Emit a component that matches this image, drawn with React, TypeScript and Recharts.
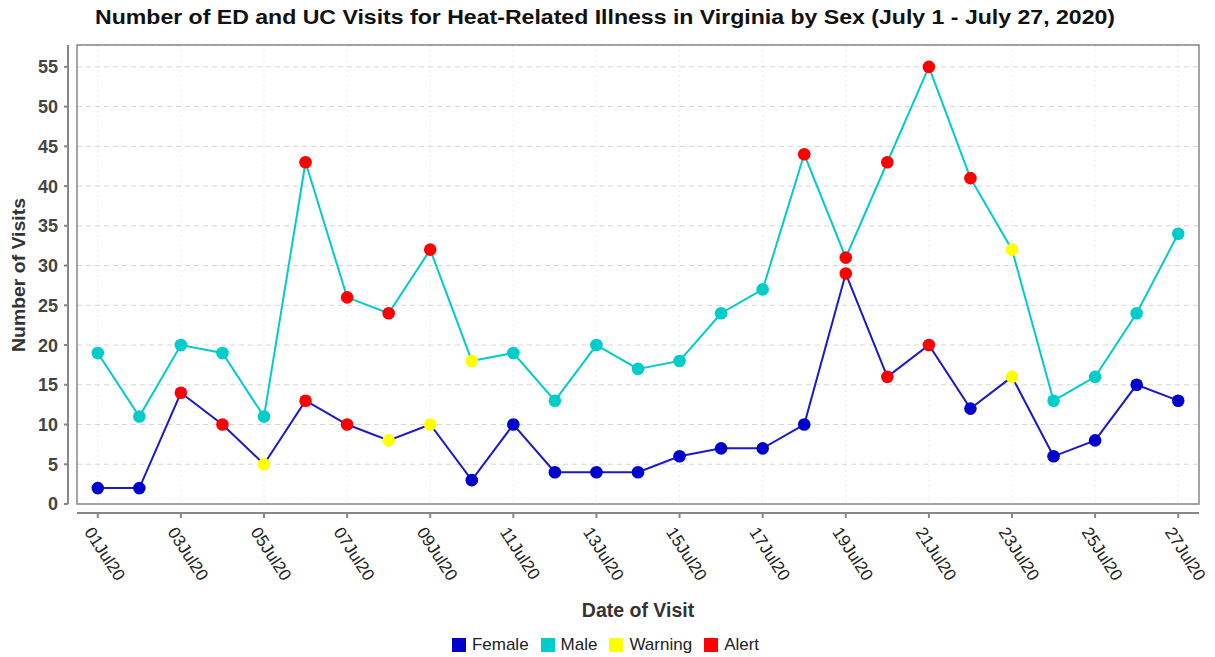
import React from 'react'
import * as R from 'recharts'

const { ComposedChart, Line, XAxis, YAxis, CartesianGrid, Customized } = R

// one row per day of July 2020
const days = [1, 2, 3, 4, 5, 6, 7, 8, 9, 10, 11, 12, 13, 14, 15, 16, 17, 18, 19, 20, 21, 22, 23, 24, 25, 26, 27]
const female = [2, 2, 14, 10, 5, 13, 10, 8, 10, 3, 10, 4, 4, 4, 6, 7, 7, 10, 29, 16, 20, 12, 16, 6, 8, 15, 13]
const male = [19, 11, 20, 19, 11, 43, 26, 24, 32, 18, 19, 13, 20, 17, 18, 24, 27, 44, 31, 43, 55, 41, 32, 13, 16, 24, 34]
// n = normal, w = warning, a = alert
const femaleFlag = ['n', 'n', 'a', 'a', 'w', 'a', 'a', 'w', 'w', 'n', 'n', 'n', 'n', 'n', 'n', 'n', 'n', 'n', 'a', 'a', 'a', 'n', 'w', 'n', 'n', 'n', 'n']
const maleFlag = ['n', 'n', 'n', 'n', 'n', 'a', 'a', 'a', 'a', 'w', 'n', 'n', 'n', 'n', 'n', 'n', 'n', 'a', 'a', 'a', 'a', 'a', 'w', 'n', 'n', 'n', 'n']

const xTicks = [1, 3, 5, 7, 9, 11, 13, 15, 17, 19, 21, 23, 25, 27]
const xTickLabels = ['01Jul20', '03Jul20', '05Jul20', '07Jul20', '09Jul20', '11Jul20', '13Jul20', '15Jul20', '17Jul20', '19Jul20', '21Jul20', '23Jul20', '25Jul20', '27Jul20']
const yTicks = [0, 5, 10, 15, 20, 25, 30, 35, 40, 45, 50, 55]

const FEMALE = '#0000cc'
const MALE = '#00cccc'
const WARN = '#ffff00'
const ALERT = '#ff0000'
const FONT = '"Liberation Sans", Arial, sans-serif'

const legendItems = [
  { name: 'Female', color: FEMALE },
  { name: 'Male', color: MALE },
  { name: 'Warning', color: WARN },
  { name: 'Alert', color: ALERT },
]

const W = 1215
const H = 657
const margin = { top: 45, right: 16, left: 27, bottom: 53 }
const Y_AXIS_W = 50
const X_AXIS_H = 100

const data = days.map((d, i) => ({ day: d, female: female[i], male: male[i] }))

const flagColor = (flag: string, base: string) =>
  flag === 'a' ? ALERT : flag === 'w' ? WARN : base

const makeDot = (flags: string[], base: string) => (p: any) => (
  <circle
    key={`dot-${base}-${p.index}`}
    cx={p.cx}
    cy={p.cy}
    r={6.3}
    fill={flagColor(flags[p.index], base)}
    stroke="none"
  />
)

function XTick(props: any) {
  const { x, y, payload } = props
  const i = xTicks.indexOf(payload.value)
  const tx = x - 14
  const ty = y + 28
  return (
    <g>
      <line x1={x} x2={x} y1={y + 9} y2={y + 14} stroke="#888" strokeWidth={2} />
      <text
        x={tx}
        y={ty}
        transform={`rotate(57 ${tx} ${ty})`}
        fontSize={17}
        fontFamily={FONT}
        fill="#222"
      >
        {xTickLabels[i]}
      </text>
    </g>
  )
}

function YTick(props: any) {
  const { x, y, payload } = props
  return (
    <g>
      <line x1={x - 13} x2={x - 9} y1={y} y2={y} stroke="#888" strokeWidth={2} />
      <text
        x={x - 19}
        y={y}
        dy="0.36em"
        textAnchor="end"
        fontSize={18}
        fontWeight="bold"
        fontFamily={FONT}
        fill="#444"
      >
        {payload.value}
      </text>
    </g>
  )
}

function Frame() {
  const area = (R as any).usePlotArea ? (R as any).usePlotArea() : undefined
  const a = area ?? {
    x: margin.left + Y_AXIS_W,
    y: margin.top,
    width: W - margin.left - margin.right - Y_AXIS_W,
    height: H - margin.top - margin.bottom - X_AXIS_H,
  }
  return (
    <g>
      <rect x={a.x} y={a.y} width={a.width} height={a.height} fill="none" stroke="#888" strokeWidth={1.5} />
      <line x1={a.x - 9} x2={a.x - 9} y1={a.y} y2={a.y + a.height} stroke="#888" strokeWidth={2} />
      <line x1={a.x} x2={a.x + a.width} y1={a.y + a.height + 9} y2={a.y + a.height + 9} stroke="#888" strokeWidth={2} />
      <text
        x={605}
        y={24}
        textAnchor="middle"
        fontSize={20}
        fontWeight="bold"
        fontFamily={FONT}
        fill="#111"
        textLength={1020}
        lengthAdjust="spacingAndGlyphs"
      >
        Number of ED and UC Visits for Heat-Related Illness in Virginia by Sex (July 1 - July 27, 2020)
      </text>
      <text
        x={a.x + a.width / 2}
        y={617}
        textAnchor="middle"
        fontSize={19.5}
        fontWeight="bold"
        fontFamily={FONT}
        fill="#333"
      >
        Date of Visit
      </text>
      <text
        x={25}
        y={275}
        transform="rotate(-90 25 275)"
        textAnchor="middle"
        fontSize={19}
        fontWeight="bold"
        fontFamily={FONT}
        fill="#333"
        textLength={154}
        lengthAdjust="spacingAndGlyphs"
      >
        Number of Visits
      </text>
    </g>
  )
}

function LegendRow() {
  return (
    <div
      style={{
        position: 'absolute',
        left: 4,
        top: 635,
        width: W,
        display: 'flex',
        justifyContent: 'center',
        alignItems: 'center',
        fontFamily: FONT,
        fontSize: 17,
        color: '#222',
      }}
    >
      {legendItems.map((it) => (
        <div key={it.name} style={{ display: 'flex', alignItems: 'center', marginRight: 12 }}>
          <span style={{ width: 14, height: 14, background: it.color, display: 'inline-block', marginRight: 6 }} />
          <span>{it.name}</span>
        </div>
      ))}
    </div>
  )
}

export default function App() {
  return (
    <div style={{ position: 'absolute', left: 0, top: 0, width: W, height: H, background: '#fff' }}>
      <ComposedChart width={W} height={H} data={data} margin={margin}>
        <CartesianGrid horizontal={false} stroke="#ececec" strokeDasharray="2 3" />
        <CartesianGrid vertical={false} stroke="#d6d6d6" strokeDasharray="5 4" />
        <XAxis
          dataKey="day"
          type="number"
          domain={[0.5, 27.5]}
          allowDataOverflow
          ticks={xTicks}
          interval={0}
          height={X_AXIS_H}
          axisLine={false}
          tickLine={false}
          tickSize={0}
          tickMargin={0}
          tick={<XTick />}
        />
        <YAxis
          domain={[0, 57.75]}
          allowDataOverflow
          ticks={yTicks}
          interval={0}
          width={Y_AXIS_W}
          axisLine={false}
          tickLine={false}
          tickSize={0}
          tickMargin={0}
          tick={<YTick />}
        />
        <Customized component={<Frame />} />
        <Line
          dataKey="male"
          stroke={MALE}
          strokeWidth={2}
          dot={makeDot(maleFlag, MALE)}
          activeDot={false}
          isAnimationActive={false}
        />
        <Line
          dataKey="female"
          stroke="#1a1acc"
          strokeWidth={2}
          dot={makeDot(femaleFlag, FEMALE)}
          activeDot={false}
          isAnimationActive={false}
        />
      </ComposedChart>
      <LegendRow />
    </div>
  )
}
